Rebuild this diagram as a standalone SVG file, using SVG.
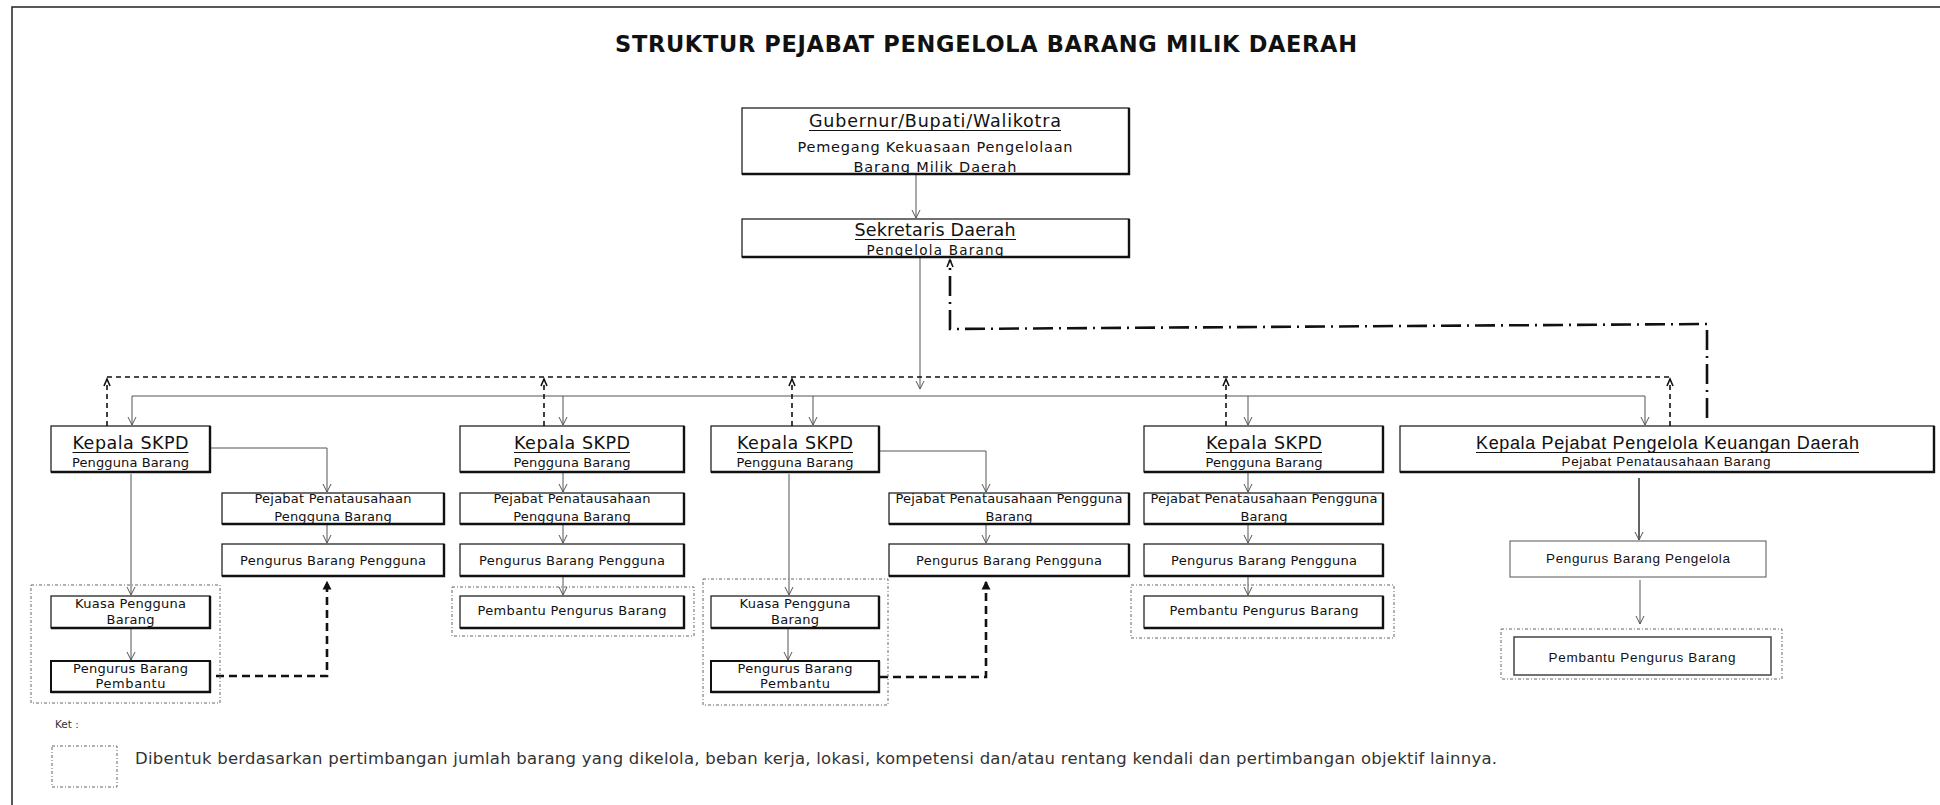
<svg xmlns="http://www.w3.org/2000/svg" width="1940" height="805" viewBox="0 0 1940 805">
<style>
.t{font-family:"DejaVu Sans","Liberation Sans",sans-serif;fill:#111;text-anchor:middle}
.a{font-family:"Liberation Sans","DejaVu Sans",sans-serif;fill:#111;text-anchor:middle}
.h{font-size:17.5px}
.s{font-size:13px}
.ul{stroke:#111;stroke-width:1.1}
.bx{fill:#fff;stroke:#111;stroke-width:1.2}
.sh{fill:none;stroke:#111;stroke-width:2.4}
.grp{fill:none;stroke:#666;stroke-width:1;stroke-dasharray:3 2 1 2}
.ln{fill:none;stroke:#555;stroke-width:1}
.ds{fill:none;stroke:#111;stroke-width:1.6;stroke-dasharray:5 4}
.bd{fill:none;stroke:#111;stroke-width:2.6;stroke-dasharray:8 5}
.dd{fill:none;stroke:#111;stroke-width:2.6;stroke-dasharray:20 6 2 6}
</style>
<defs>
<marker id="av" viewBox="-1 -5 10 10" refX="8" refY="0" markerUnits="userSpaceOnUse" markerWidth="10" markerHeight="10" orient="auto">
<path d="M0,-4 L8,0 L0,4" fill="none" stroke="#555" stroke-width="1"/>
</marker>
<marker id="ac" viewBox="-1 -5 10 10" refX="7" refY="0" markerUnits="userSpaceOnUse" markerWidth="10" markerHeight="10" orient="auto">
<path d="M0,-3 L7,0 L0,3" fill="none" stroke="#111" stroke-width="1.6"/>
</marker>
<marker id="ab" viewBox="-1 -5 10 10" refX="7" refY="0" markerUnits="userSpaceOnUse" markerWidth="10" markerHeight="10" orient="auto">
<path d="M0,-3.5 L7,0 L0,3.5 Z" fill="#111" stroke="#111" stroke-width="1.2"/>
</marker>
<clipPath id="cg"><rect x="742" y="108" width="387" height="66"/></clipPath>
<clipPath id="cs"><rect x="742" y="219" width="387" height="38"/></clipPath>
</defs>

<rect x="12" y="7" width="1940" height="820" fill="none" stroke="#222" stroke-width="1.5"/>
<text x="986" y="52" class="t" style="font-size:22.5px;font-weight:bold" textLength="742">STRUKTUR PEJABAT PENGELOLA BARANG MILIK DAERAH</text>

<g id="connectors">
<path class="ln" d="M916,174 V218" marker-end="url(#av)"/>
<path class="ln" d="M920,257 V389" marker-end="url(#av)"/>
<path class="ln" d="M132,396 H1645"/>
<path class="ln" d="M132,396 V425" marker-end="url(#av)"/>
<path class="ln" d="M563,396 V425" marker-end="url(#av)"/>
<path class="ln" d="M813,396 V425" marker-end="url(#av)"/>
<path class="ln" d="M1248,396 V425" marker-end="url(#av)"/>
<path class="ln" d="M1645,396 V425" marker-end="url(#av)"/>
<path class="ds" d="M107,377 H1670"/>
<path class="ds" d="M107,426 V379" marker-end="url(#ac)"/>
<path class="ds" d="M544,426 V379" marker-end="url(#ac)"/>
<path class="ds" d="M792,426 V379" marker-end="url(#ac)"/>
<path class="ds" d="M1226,426 V379" marker-end="url(#ac)"/>
<path class="ds" d="M1670,426 V379" marker-end="url(#ac)"/>
<path class="dd" d="M1707,418 V324 L950,329 V260" marker-end="url(#ac)"/>
<path class="ln" d="M210,448 H327 V492" marker-end="url(#av)"/>
<path class="ln" d="M327,524 V543" marker-end="url(#av)"/>
<path class="ln" d="M131,474 V595" marker-end="url(#av)"/>
<path class="ln" d="M131,628 V660" marker-end="url(#av)"/>
<path class="bd" d="M216,676 H327 V582" marker-end="url(#ab)"/>
<path class="ln" d="M563,472 V492" marker-end="url(#av)"/>
<path class="ln" d="M563,524 V543" marker-end="url(#av)"/>
<path class="ln" d="M563,576 V595" marker-end="url(#av)"/>
<path class="ln" d="M879,451 H986 V492" marker-end="url(#av)"/>
<path class="ln" d="M986,524 V543" marker-end="url(#av)"/>
<path class="ln" d="M789,474 V595" marker-end="url(#av)"/>
<path class="ln" d="M788,628 V660" marker-end="url(#av)"/>
<path class="bd" d="M880,677 H986 V582" marker-end="url(#ab)"/>
<path class="ln" d="M1248,472 V492" marker-end="url(#av)"/>
<path class="ln" d="M1248,524 V543" marker-end="url(#av)"/>
<path class="ln" d="M1248,576 V595" marker-end="url(#av)"/>
<path d="M1639,478 V540" fill="none" stroke="#222" stroke-width="1.4" marker-end="url(#av)"/>
<path class="ln" d="M1640,580 V624" marker-end="url(#av)"/>
</g>

<g id="groups">
<rect class="grp" x="31" y="585" width="189" height="118"/>
<rect class="grp" x="452" y="587" width="242" height="49"/>
<rect class="grp" x="703" y="579" width="185" height="126"/>
<rect class="grp" x="1131" y="585" width="263" height="53"/>
<rect class="grp" x="1501" y="629" width="281" height="50"/>
</g>

<g id="gubernur">
<rect class="bx" x="742" y="108" width="387" height="66"/>
<g clip-path="url(#cg)">
<text x="935" y="127" class="t h" textLength="252">Gubernur/Bupati/Walikotra</text>
<text x="935" y="152" class="t" style="font-size:14.5px" textLength="275">Pemegang Kekuasaan Pengelolaan</text>
<text x="935" y="172" class="t" style="font-size:14.5px" textLength="163">Barang Milik Daerah</text>
</g>
<line class="ul" x1="809" y1="130.5" x2="1061" y2="130.5"/>
<path class="sh" d="M1129,108 V174 H742"/>
</g>

<g id="sekretaris">
<rect class="bx" x="742" y="219" width="387" height="38"/>
<g clip-path="url(#cs)">
<text x="935" y="236" class="t h" textLength="161">Sekretaris Daerah</text>
<text x="935" y="255" class="t" style="font-size:13.5px" textLength="137">Pengelola Barang</text>
</g>
<line class="ul" x1="855" y1="239.5" x2="1016" y2="239.5"/>
<path class="sh" d="M1129,219 V257 H742"/>
</g>

<g id="kepala1">
<rect class="bx" x="51" y="426" width="159" height="46"/><path class="sh" d="M210,426 V472 H51"/>
<text x="130.5" y="449" class="t h" textLength="116">Kepala SKPD</text>
<line class="ul" x1="72.5" y1="452.5" x2="188.5" y2="452.5"/>
<text x="130.5" y="467" class="t s" textLength="117">Pengguna Barang</text>
</g>
<g id="kepala2">
<rect class="bx" x="460" y="426" width="224" height="46"/><path class="sh" d="M684,426 V472 H460"/>
<text x="572" y="449" class="t h" textLength="116">Kepala SKPD</text>
<line class="ul" x1="514" y1="452.5" x2="630" y2="452.5"/>
<text x="572" y="467" class="t s" textLength="117">Pengguna Barang</text>
</g>
<g id="kepala3">
<rect class="bx" x="711" y="426" width="168" height="46"/><path class="sh" d="M879,426 V472 H711"/>
<text x="795" y="449" class="t h" textLength="116">Kepala SKPD</text>
<line class="ul" x1="737" y1="452.5" x2="853" y2="452.5"/>
<text x="795" y="467" class="t s" textLength="117">Pengguna Barang</text>
</g>
<g id="kepala4">
<rect class="bx" x="1144" y="426" width="239" height="46"/><path class="sh" d="M1383,426 V472 H1144"/>
<text x="1264" y="449" class="t h" textLength="116">Kepala SKPD</text>
<line class="ul" x1="1206" y1="452.5" x2="1322" y2="452.5"/>
<text x="1264" y="467" class="t s" textLength="117">Pengguna Barang</text>
</g>
<g id="kepala-pejabat">
<rect class="bx" x="1400" y="426" width="534" height="46"/><path class="sh" d="M1934,426 V472 H1400"/>
<text x="1667.5" y="449" class="a" style="font-size:18px" textLength="383">Kepala Pejabat Pengelola Keuangan Daerah</text>
<line class="ul" x1="1476" y1="452.5" x2="1859" y2="452.5"/>
<text x="1666" y="466" class="a" style="font-size:13.5px" textLength="209">Pejabat Penatausahaan Barang</text>
</g>

<g id="pejabat1">
<rect class="bx" x="222" y="493" width="222" height="31"/><path class="sh" d="M444,493 V524 H222"/>
<text x="333" y="503" class="t s" textLength="157">Pejabat Penatausahaan</text>
<text x="333" y="521" class="t s" textLength="117.5">Pengguna Barang</text>
</g>
<g id="pejabat2">
<rect class="bx" x="460" y="493" width="224" height="31"/><path class="sh" d="M684,493 V524 H460"/>
<text x="572" y="503" class="t s" textLength="157">Pejabat Penatausahaan</text>
<text x="572" y="521" class="t s" textLength="117.5">Pengguna Barang</text>
</g>
<g id="pejabat3">
<rect class="bx" x="889" y="493" width="240" height="31"/><path class="sh" d="M1129,493 V524 H889"/>
<text x="1009" y="503" class="t s" textLength="227">Pejabat Penatausahaan Pengguna</text>
<text x="1009" y="521" class="t s" textLength="47">Barang</text>
</g>
<g id="pejabat4">
<rect class="bx" x="1144" y="493" width="239" height="31"/><path class="sh" d="M1383,493 V524 H1144"/>
<text x="1264" y="503" class="t s" textLength="227">Pejabat Penatausahaan Pengguna</text>
<text x="1264" y="521" class="t s" textLength="47">Barang</text>
</g>

<g id="pengurus1">
<rect class="bx" x="222" y="544" width="222" height="32"/><path class="sh" d="M444,544 V576 H222"/>
<text x="333" y="565" class="t s" textLength="186">Pengurus Barang Pengguna</text>
</g>
<g id="pengurus2">
<rect class="bx" x="460" y="544" width="224" height="32"/><path class="sh" d="M684,544 V576 H460"/>
<text x="572" y="565" class="t s" textLength="186">Pengurus Barang Pengguna</text>
</g>
<g id="pengurus3">
<rect class="bx" x="889" y="544" width="240" height="32"/><path class="sh" d="M1129,544 V576 H889"/>
<text x="1009" y="565" class="t s" textLength="186">Pengurus Barang Pengguna</text>
</g>
<g id="pengurus4">
<rect class="bx" x="1144" y="544" width="239" height="32"/><path class="sh" d="M1383,544 V576 H1144"/>
<text x="1264" y="565" class="t s" textLength="186">Pengurus Barang Pengguna</text>
</g>

<g id="pembantu2">
<rect class="bx" x="460" y="596" width="224" height="32"/><path class="sh" d="M684,596 V628 H460"/>
<text x="572" y="615" class="t s" textLength="189">Pembantu Pengurus Barang</text>
</g>
<g id="pembantu4">
<rect class="bx" x="1144" y="596" width="239" height="32"/><path class="sh" d="M1383,596 V628 H1144"/>
<text x="1264" y="615" class="t s" textLength="189">Pembantu Pengurus Barang</text>
</g>

<g id="kuasa1">
<rect class="bx" x="51" y="596" width="159" height="32"/><path class="sh" d="M210,596 V628 H51"/>
<text x="130.5" y="608" class="t s" textLength="111">Kuasa Pengguna</text>
<text x="130.5" y="624" class="t s" textLength="48">Barang</text>
</g>
<g id="kuasa2">
<rect class="bx" x="711" y="596" width="168" height="32"/><path class="sh" d="M879,596 V628 H711"/>
<text x="795" y="608" class="t s" textLength="111">Kuasa Pengguna</text>
<text x="795" y="624" class="t s" textLength="48">Barang</text>
</g>
<g id="pbp1">
<rect class="bx" x="51" y="661" width="159" height="31" style="stroke-width:2"/><path class="sh" d="M210,661 V692 H51"/>
<text x="130.5" y="673" class="t s" textLength="115">Pengurus Barang</text>
<text x="130.5" y="688" class="t s" textLength="70">Pembantu</text>
</g>
<g id="pbp2">
<rect class="bx" x="711" y="661" width="168" height="31" style="stroke-width:2"/><path class="sh" d="M879,661 V692 H711"/>
<text x="795" y="673" class="t s" textLength="115">Pengurus Barang</text>
<text x="795" y="688" class="t s" textLength="70">Pembantu</text>
</g>

<g id="pengurus-pengelola">
<rect x="1510" y="541" width="256" height="36" fill="#fff" stroke="#555" stroke-width="1"/>
<text x="1638" y="563" class="a" style="font-size:13.5px" textLength="184">Pengurus Barang Pengelola</text>
</g>
<g id="pembantu5">
<rect x="1514" y="637" width="257" height="38" fill="#fff" stroke="#444" stroke-width="1.5"/>
<text x="1642" y="662" class="a" style="font-size:13.5px" textLength="187">Pembantu Pengurus Barang</text>
</g>

<g id="legend">
<text x="55" y="728" style="font-family:'DejaVu Sans',sans-serif;font-size:10.5px;fill:#333">Ket :</text>
<rect class="grp" x="52" y="746" width="65" height="41"/>
<text x="135" y="764" style="font-family:'DejaVu Sans',sans-serif;font-size:16.5px;fill:#333" textLength="1362">Dibentuk berdasarkan pertimbangan jumlah barang yang dikelola, beban kerja, lokasi, kompetensi dan/atau rentang kendali dan pertimbangan objektif lainnya.</text>
</g>
</svg>
